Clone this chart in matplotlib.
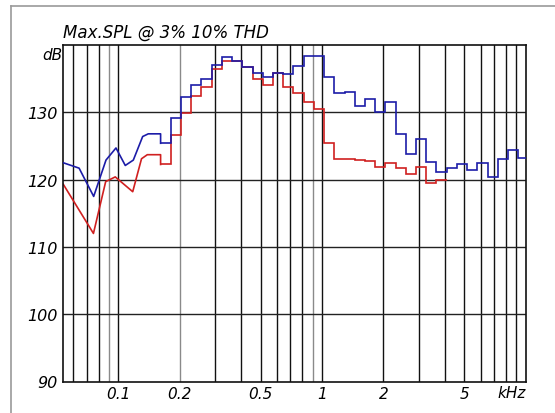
import matplotlib
matplotlib.use("Agg")
import matplotlib.pyplot as plt
from matplotlib.lines import Line2D

# ---- data (kHz, dB) ----
blue_poly_f = [0.0537, 0.0642, 0.0757, 0.0870, 0.0974, 0.1082, 0.1185, 0.1317, 0.1403, 0.1613]
blue_poly_db = [122.5, 121.7, 117.5, 122.9, 124.7, 122.1, 122.9, 126.4, 126.8, 126.8]
red_poly_f = [0.0537, 0.0755, 0.0867, 0.0966, 0.1177, 0.1300, 0.1388, 0.1613]
red_poly_db = [119.3, 112.0, 119.7, 120.4, 118.2, 123.1, 123.7, 123.7]

step_edges = [0.1613, 0.1810, 0.2032, 0.2281, 0.2560, 0.2873, 0.3225, 0.3620,
              0.4062, 0.4560, 0.5118, 0.5745, 0.6450, 0.7240, 0.8125, 0.9120,
              1.024, 1.149, 1.290, 1.448, 1.625, 1.824, 2.047, 2.298, 2.579,
              2.895, 3.250, 3.648, 4.095, 4.596, 5.159, 5.791, 6.500, 7.296,
              8.190, 9.193, 10.0]
blue_steps = [125.4, 129.2, 132.2, 134.1, 134.95, 137.0, 138.2, 137.6, 136.8,
              135.9, 135.2, 135.9, 135.7, 136.9, 138.3, 138.3, 135.2, 132.9,
              132.95, 131.0, 132.0, 130.1, 131.5, 126.8, 123.8, 126.0, 122.6,
              121.1, 121.7, 122.3, 121.4, 122.4, 120.4, 123.0, 124.4, 123.2]
red_steps = [122.25, 126.7, 129.9, 132.4, 133.7, 136.5, 137.6, 137.6, 136.8,
             135.0, 134.1, 135.9, 133.8, 132.8, 131.6, 130.45, 125.4, 123.1,
             123.0, 122.95, 122.75, 121.9, 122.4, 121.75, 120.8, 121.9, 119.55,
             120.0]

x_ticks = [0.1, 0.2, 0.5, 1, 2, 5]
x_tick_labels = ["0.1", "0.2", "0.5", "1", "2", "5"]
y_ticks = [90, 100, 110, 120, 130]
vgrid = [0.06, 0.07, 0.08, 0.09, 0.1, 0.2, 0.3, 0.4, 0.5, 0.6, 0.7, 0.8, 0.9,
         1, 2, 3, 4, 5, 6, 7, 8, 9]
vgrid_light = [0.09, 0.2, 0.9]
hgrid = [100, 110, 120, 130]

BLUE = "#1c1ca8"
RED = "#d02020"

fig = plt.figure(figsize=(5.55, 4.14), dpi=100)
ax = fig.add_axes([63.3 / 555, 1 - 382.5 / 414, (525.7 - 63.3) / 555, (382.5 - 46) / 414])
ax.set_xscale("log")
ax.set_xlim(0.0537, 10.0)
ax.set_ylim(90, 140)

for f in vgrid:
    c = "#8a8a8a" if f in vgrid_light else "#111111"
    ax.axvline(f, color=c, lw=1.0, zorder=1)
for y in hgrid:
    ax.axhline(y, color="#222222", lw=1.0, zorder=1)

ax.plot(blue_poly_f + [step_edges[0]], blue_poly_db + [blue_steps[0]], color=BLUE, lw=1.2, zorder=3)
ax.stairs(blue_steps, step_edges, baseline=None, color=BLUE, lw=1.2, zorder=3)
ax.plot(red_poly_f + [step_edges[0]], red_poly_db + [red_steps[0]], color=RED, lw=1.2, zorder=2)
ax.stairs(red_steps, step_edges[:len(red_steps) + 1], baseline=None, color=RED, lw=1.2, zorder=2)

for s in ax.spines.values():
    s.set_color("#111111")
    s.set_linewidth(1.2)

ax.set_xticks(x_ticks)
ax.set_xticklabels(x_tick_labels, fontsize=11, style="italic")
ax.xaxis.set_minor_locator(matplotlib.ticker.NullLocator())
ax.set_yticks(y_ticks)
ax.set_yticklabels([str(v) for v in y_ticks], fontsize=11.5, style="italic")
ax.tick_params(length=0, pad=4)
ax.tick_params(axis="x", pad=3)

ax.text(10.0, -(394 - 382.5) / 336.5, "kHz", transform=ax.get_xaxis_transform(),
        ha="right", va="center", fontsize=11, style="italic")
fig.text(62 / 555, 1 - 55 / 414, "dB", ha="right", va="center", fontsize=11, style="italic")
fig.text(63 / 555, 1 - 33 / 414, "Max.SPL @ 3% 10% THD", ha="left", va="center",
         fontsize=12, style="italic")

# outer frame lines (top and left)
fig.add_artist(Line2D([11 / 555, 1.0], [1 - 7 / 414, 1 - 7 / 414], transform=fig.transFigure,
                      color="#9a9a9a", lw=1.2))
fig.add_artist(Line2D([11 / 555, 11 / 555], [0.0, 1 - 7 / 414], transform=fig.transFigure,
                      color="#9a9a9a", lw=1.2))

fig.savefig("out.png", dpi=100)
